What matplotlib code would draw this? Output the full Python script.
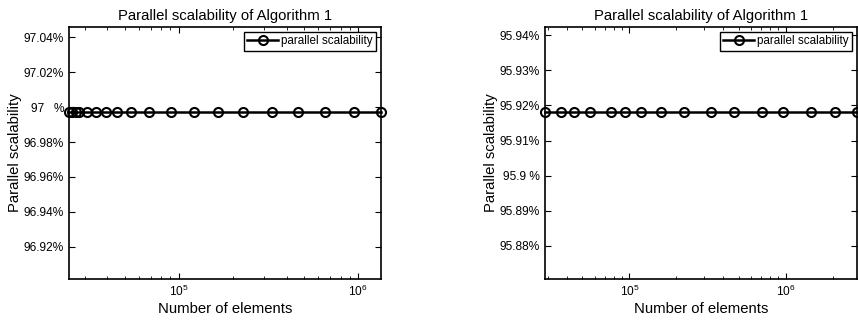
import matplotlib
matplotlib.use("Agg")
import matplotlib.pyplot as plt
from matplotlib.ticker import FixedLocator, FixedFormatter, LogLocator, NullFormatter

plt.rcParams['font.family'] = ['Liberation Sans', 'DejaVu Sans']
plt.rcParams['mathtext.fontset'] = 'custom'
plt.rcParams['mathtext.rm'] = 'Liberation Sans'
plt.rcParams['mathtext.it'] = 'Liberation Sans'

# Left panel data
n_left = [24500, 25500, 26700, 27900, 31000, 34800, 39300, 45300, 54200, 68500,
          91000, 121000, 165000, 228000, 330000, 462000, 652000, 942000, 1340000]
s_left = [96.997] * len(n_left)
yticks_left = [96.92, 96.94, 96.96, 96.98, 97.00, 97.02, 97.04]
ylabels_left = ['96.92%', '96.94%', '96.96%', '96.98%', '97   %', '97.02%', '97.04%']
ylim_left = (96.9015, 97.046)

# Right panel data
n_right = [28800, 36300, 44000, 56300, 76400, 93800, 118000, 160000, 225000, 334000,
           471000, 706000, 966000, 1460000, 2090000, 2870000]
s_right = [95.918] * len(n_right)
yticks_right = [95.88, 95.89, 95.90, 95.91, 95.92, 95.93, 95.94]
ylabels_right = ['95.88%', '95.89%', '95.9 %', '95.91%', '95.92%', '95.93%', '95.94%']
ylim_right = (95.8706, 95.9423)

title = 'Parallel scalability of Algorithm 1'
xlabel = 'Number of elements'
ylabel = 'Parallel scalability'
legend_label = 'parallel scalability'

fig = plt.figure(figsize=(8.58, 3.2), dpi=100)
axL = fig.add_axes([69/858, 1-279/320, 312/858, 252/320])
axR = fig.add_axes([545/858, 1-279/320, 312/858, 252/320])

for ax, n, s, yt, yl, ylim in [(axL, n_left, s_left, yticks_left, ylabels_left, ylim_left),
                               (axR, n_right, s_right, yticks_right, ylabels_right, ylim_right)]:
    ax.plot(n, s, color='black', lw=1.8, marker='o', markersize=6.5,
            markerfacecolor='none', markeredgecolor='black', markeredgewidth=1.5,
            label=legend_label, clip_on=False)
    ax.set_xscale('log')
    ax.set_xlim(min(n), max(n))
    ax.set_ylim(*ylim)
    ax.yaxis.set_major_locator(FixedLocator(yt))
    ax.yaxis.set_major_formatter(FixedFormatter(yl))
    ax.xaxis.set_major_locator(LogLocator(base=10, numticks=10))
    ax.xaxis.set_minor_locator(LogLocator(base=10, subs=range(2, 10), numticks=20))
    ax.xaxis.set_minor_formatter(NullFormatter())
    ax.tick_params(which='both', direction='in', top=True, right=True, labelsize=8.6)
    ax.tick_params(which='major', length=4, width=0.8)
    ax.tick_params(which='minor', length=2, width=0.6)
    for sp in ax.spines.values():
        sp.set_linewidth(1.2)
    ax.set_title(title, fontsize=10.7, pad=5)
    ax.set_xlabel(xlabel, fontsize=10.7, labelpad=2)
    ax.set_ylabel(ylabel, fontsize=10.7, labelpad=1)
    leg = ax.legend(loc='upper right', fontsize=8.4, fancybox=False, framealpha=1,
                    edgecolor='black', handlelength=2.6, borderpad=0.3,
                    handletextpad=0.3, borderaxespad=0.4)
    leg.get_frame().set_linewidth(1.0)

fig.savefig('out.png', dpi=100)
